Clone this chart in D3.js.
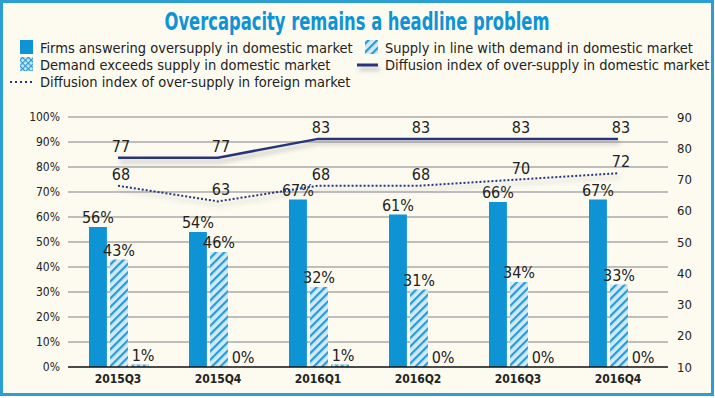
<!DOCTYPE html>
<html>
<head>
<meta charset="utf-8">
<script src="https://cdn.jsdelivr.net/npm/d3@7/dist/d3.min.js"></script>
<style>
  body { margin: 0; background: #fff; }
  text { font-family: "DejaVu Sans Condensed", "DejaVu Sans", sans-serif; font-stretch: condensed; fill: #222; }
</style>
</head>
<body>
<svg id="chart" width="715" height="398"></svg>
<script>
const categories = ['2015Q3', '2015Q4', '2016Q1', '2016Q2', '2016Q3', '2016Q4'];
const oversupply = [56, 54, 67, 61, 66, 67];
const inLine = [43, 46, 32, 31, 34, 33];
const exceeds = [1, 0, 1, 0, 0, 0];
const domesticIndex = [77, 77, 83, 83, 83, 83];
const foreignIndex = [68, 63, 68, 68, 70, 72];
const leftTicks = [0, 10, 20, 30, 40, 50, 60, 70, 80, 90, 100];
const rightTicks = [10, 20, 30, 40, 50, 60, 70, 80, 90];

const blue = '#0e94d4';
const navy = '#27357e';

const svg = d3.select('#chart');
const defs = svg.append('defs');

// hatch for "supply in line"
const hatch = defs.append('pattern')
  .attr('id', 'hatch')
  .attr('patternUnits', 'userSpaceOnUse')
  .attr('width', 6)
  .attr('height', 6)
  .attr('patternTransform', 'rotate(45)');
hatch.append('rect').attr('width', 6).attr('height', 6).attr('fill', '#cfeaf8');
hatch.append('rect').attr('width', 2.2).attr('height', 6).attr('fill', '#2a9ad6');

// cross hatch for "demand exceeds"
const cross = defs.append('pattern')
  .attr('id', 'cross')
  .attr('patternUnits', 'userSpaceOnUse')
  .attr('width', 4)
  .attr('height', 4)
  .attr('patternTransform', 'rotate(45)');
cross.append('rect').attr('width', 4).attr('height', 4).attr('fill', '#cfeaf8');
cross.append('rect').attr('width', 1.2).attr('height', 4).attr('fill', '#2a9ad6');
cross.append('rect').attr('width', 4).attr('height', 1.2).attr('fill', '#2a9ad6');

// shadow under the index lines (user space so flat lines still get it)
const shadow = defs.append('filter').attr('id', 'shadow')
  .attr('filterUnits', 'userSpaceOnUse')
  .attr('x', 0).attr('y', 0).attr('width', 715).attr('height', 398);
shadow.append('feDropShadow')
  .attr('dx', 2).attr('dy', 4).attr('stdDeviation', 2.2)
  .attr('flood-color', '#777').attr('flood-opacity', 0.45);

// frame
svg.append('rect')
  .attr('x', 1.5).attr('y', 1.5)
  .attr('width', 711).attr('height', 393)
  .attr('fill', '#fdfbf0')
  .attr('stroke', '#2b9fd4')
  .attr('stroke-width', 3);

// title
svg.append('text')
  .attr('x', 357).attr('y', 30)
  .attr('text-anchor', 'middle')
  .attr('textLength', 385)
  .attr('lengthAdjust', 'spacingAndGlyphs')
  .style('font-size', '25px')
  .style('font-weight', 'bold')
  .style('fill', blue)
  .text('Overcapacity remains a headline problem');

// legend
const leg = svg.append('g').style('font-size', '14.5px');
leg.append('rect').attr('x', 20).attr('y', 40).attr('width', 13).attr('height', 14).attr('fill', blue);
leg.append('text').attr('x', 40).attr('y', 53).text('Firms answering oversupply in domestic market');
leg.append('rect').attr('x', 365).attr('y', 40).attr('width', 13).attr('height', 14).attr('fill', 'url(#hatch)');
leg.append('text').attr('x', 385).attr('y', 53).text('Supply in line with demand in domestic market');
leg.append('rect').attr('x', 20).attr('y', 57).attr('width', 13).attr('height', 14).attr('fill', 'url(#cross)');
leg.append('text').attr('x', 40).attr('y', 70).text('Demand exceeds supply in domestic market');
leg.append('line').attr('x1', 357).attr('x2', 378).attr('y1', 65).attr('y2', 65)
  .attr('stroke', navy).attr('stroke-width', 3).attr('filter', 'url(#shadow)');
leg.append('text').attr('x', 385).attr('y', 70).text('Diffusion index of over-supply in domestic market');
leg.append('line').attr('x1', 10).attr('x2', 35).attr('y1', 82).attr('y2', 82)
  .attr('stroke', navy).attr('stroke-width', 2).attr('stroke-dasharray', '2,3');
leg.append('text').attr('x', 40).attr('y', 87).text('Diffusion index of over-supply in foreign market');

// scales
const plotLeft = 68;
const plotRight = 668;
const plotTop = 117;
const plotBottom = 367;

const x = d3.scaleBand().domain(categories).range([plotLeft, plotRight]);
const sub = d3.scaleBand().domain(['oversupply', 'inLine', 'exceeds'])
  .range([21, 81]).paddingInner(0.15);
const y = d3.scaleLinear().domain([0, 100]).range([plotBottom, plotTop]);
const y2 = d3.scaleLinear().domain([10, 90]).range([plotBottom, plotTop]);

// grid
svg.append('g')
  .selectAll('line')
  .data(leftTicks.slice(1))
  .enter()
  .append('line')
  .attr('x1', plotLeft)
  .attr('x2', plotRight)
  .attr('y1', (d) => y(d))
  .attr('y2', (d) => y(d))
  .attr('stroke', '#aaa')
  .attr('stroke-width', 1.5);

// left axis
const yAxis = d3.axisLeft(y).tickValues(leftTicks).tickFormat((d) => `${d}%`).tickSize(0).tickPadding(8);
const gy = svg.append('g').attr('transform', `translate(${plotLeft},0)`).call(yAxis);
gy.select('.domain').remove();
gy.attr('font-family', null).attr('font-size', null);
gy.selectAll('text').style('font-size', '12px').attr('fill', '#222');

// right axis
const y2Axis = d3.axisRight(y2).tickValues(rightTicks).tickSize(0).tickPadding(9);
const gy2 = svg.append('g').attr('transform', `translate(${plotRight},0)`).call(y2Axis);
gy2.select('.domain').remove();
gy2.attr('font-family', null).attr('font-size', null);
gy2.selectAll('text').style('font-size', '13px').attr('fill', '#222');

// bars
const series = [
  { key: 'oversupply', values: oversupply, fill: blue },
  { key: 'inLine', values: inLine, fill: 'url(#hatch)' },
  { key: 'exceeds', values: exceeds, fill: 'url(#cross)' },
];

series.forEach((s) => {
  const g = svg.append('g');
  g.selectAll('rect')
    .data(categories)
    .enter()
    .append('rect')
    .attr('x', (d) => x(d) + sub(s.key))
    .attr('y', (d, i) => y(s.values[i]))
    .attr('width', sub.bandwidth())
    .attr('height', (d, i) => plotBottom - y(s.values[i]))
    .attr('fill', s.fill);
  g.selectAll('text')
    .data(categories)
    .enter()
    .append('text')
    .attr('x', (d) => x(d) + sub(s.key) + sub.bandwidth() / 2 + (s.key === 'exceeds' ? 3 : 0))
    .attr('y', (d, i) => y(s.values[i]) - 4)
    .attr('text-anchor', 'middle')
    .style('font-size', '16px')
    .text((d, i) => `${s.values[i]}%`);
});

// baseline
svg.append('line')
  .attr('x1', plotLeft).attr('x2', plotRight)
  .attr('y1', plotBottom).attr('y2', plotBottom)
  .attr('stroke', '#111').attr('stroke-width', 1.5);

// x axis labels
const xAxis = d3.axisBottom(x).tickSize(0).tickPadding(7);
const gx = svg.append('g').attr('transform', `translate(0,${plotBottom})`).call(xAxis);
gx.select('.domain').remove();
gx.attr('font-family', null).attr('font-size', null);
gx.selectAll('text').style('font-size', '12px').style('font-weight', 'bold').attr('fill', '#222');

// lines
const cx = (d) => x(d) + x.bandwidth() / 2;
const line = d3.line().x((d) => cx(d[0])).y((d) => y2(d[1]));

svg.append('path')
  .datum(categories.map((c, i) => [c, domesticIndex[i]]))
  .attr('d', line)
  .attr('fill', 'none')
  .attr('stroke', navy)
  .attr('stroke-width', 2.5)
  .attr('filter', 'url(#shadow)');

svg.append('path')
  .datum(categories.map((c, i) => [c, foreignIndex[i]]))
  .attr('d', line)
  .attr('fill', 'none')
  .attr('stroke', navy)
  .attr('stroke-width', 2)
  .attr('stroke-dasharray', '2,2')
  .attr('filter', 'url(#shadow)');

[domesticIndex, foreignIndex].forEach((vals) => {
  svg.append('g')
    .selectAll('text')
    .data(categories)
    .enter()
    .append('text')
    .attr('x', (d) => cx(d) + 3)
    .attr('y', (d, i) => y2(vals[i]) - 6)
    .attr('text-anchor', 'middle')
    .style('font-size', '16px')
    .text((d, i) => vals[i]);
});
</script>
</body>
</html>
